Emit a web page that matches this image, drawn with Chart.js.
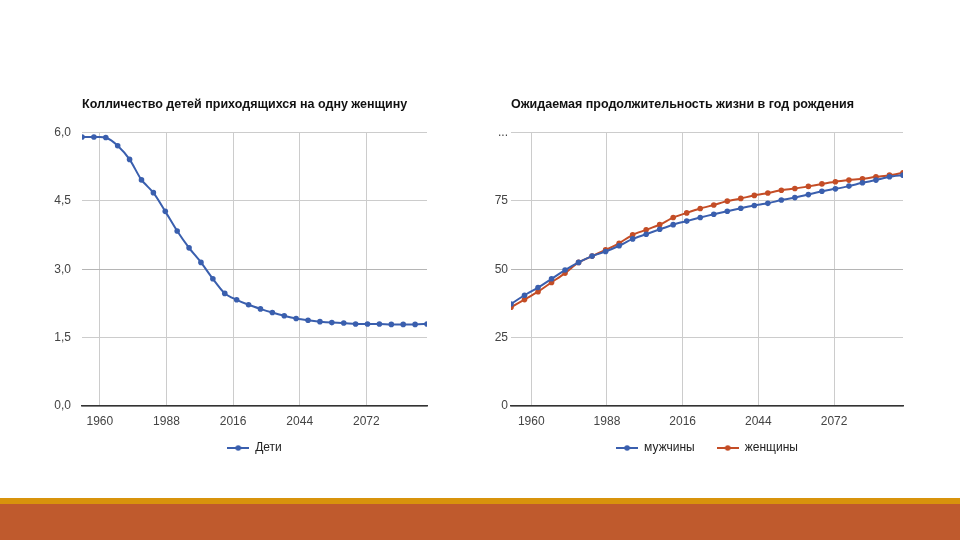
<!DOCTYPE html>
<html lang="ru">
<head>
<meta charset="utf-8">
<title>Дети и продолжительность жизни</title>
<script src="https://cdn.jsdelivr.net/npm/chart.js@4.4.1/dist/chart.umd.min.js"></script>
<style>
  html, body { margin: 0; padding: 0; background: #fff; }
  body { width: 960px; height: 540px; position: relative; overflow: hidden; }
  #childrenChart { position: absolute; left: 40px; top: 88px; }
  #lifeChart { position: absolute; left: 470px; top: 88px; }
  .band-gold { position: absolute; left: 0; top: 498px; width: 960px; height: 6px; background: #d8930c; }
  .band-rust { position: absolute; left: 0; top: 504px; width: 960px; height: 36px; background: #bf5a2d; }
</style>
</head>
<body>
<canvas id="childrenChart" width="400" height="395"></canvas>
<canvas id="lifeChart" width="440" height="395"></canvas>
<div class="band-gold"></div>
<div class="band-rust"></div>

<script>
// годы (середины пятилетних периодов)
const years = [1952.5, 1957.5, 1962.5, 1967.5, 1972.5, 1977.5, 1982.5, 1987.5, 1992.5, 1997.5,
               2002.5, 2007.5, 2012.5, 2017.5, 2022.5, 2027.5, 2032.5, 2037.5, 2042.5, 2047.5,
               2052.5, 2057.5, 2062.5, 2067.5, 2072.5, 2077.5, 2082.5, 2087.5, 2092.5, 2097.5];

// детей на одну женщину
const children = [5.90, 5.90, 5.89, 5.71, 5.41, 4.96, 4.68, 4.27, 3.84, 3.47,
                  3.15, 2.79, 2.47, 2.33, 2.22, 2.13, 2.05, 1.98, 1.92, 1.88,
                  1.85, 1.83, 1.82, 1.80, 1.80, 1.80, 1.79, 1.79, 1.79, 1.80];

// продолжительность жизни
const men = [37.3, 40.5, 43.3, 46.5, 49.7, 52.5, 54.8, 56.5, 58.6, 61.1,
             62.8, 64.6, 66.3, 67.6, 68.9, 70.1, 71.2, 72.3, 73.3, 74.1,
             75.3, 76.2, 77.3, 78.5, 79.4, 80.4, 81.6, 82.6, 83.8, 84.4];
const women = [36.1, 38.9, 41.8, 45.2, 48.6, 52.5, 54.8, 57.1, 59.5, 62.6,
               64.4, 66.3, 68.9, 70.6, 72.2, 73.5, 74.9, 75.9, 77.0, 77.9,
               78.9, 79.5, 80.3, 81.2, 82.0, 82.6, 83.1, 83.8, 84.4, 85.3];

// подписи осей
const yearTicks = [1960, 1988, 2016, 2044, 2072];
const childTicks = [0, 1.5, 3, 4.5, 6];
const lifeTicks = [0, 25, 50, 75, 100];
const lifeTickLabels = ['0', '25', '50', '75', '...'];

const BLUE = '#3a5fae';
const RED = '#c44d26';
const FONT = "'Liberation Sans', Arial, sans-serif";

/**
 * маркер легенды: линия с точкой
 */
function legendMarker(color) {
  const c = document.createElement('canvas');
  c.width = 22;
  c.height = 8;
  const ctx = c.getContext('2d');
  ctx.strokeStyle = color;
  ctx.lineWidth = 2;
  ctx.beginPath();
  ctx.moveTo(0, 4);
  ctx.lineTo(22, 4);
  ctx.stroke();
  ctx.fillStyle = color;
  ctx.beginPath();
  ctx.arc(11, 4, 2.8, 0, Math.PI * 2);
  ctx.fill();
  return c;
}

// легенду поднимаем ближе к оси (отступ между элементами остаётся широким)
const legendLift = {
  id: 'legendLift',
  afterLayout: function(chart) {
    if (chart.legend) {
      chart.legend.top -= 16;
      chart.legend.bottom -= 16;
    }
  }
};

function toPoints(values) {
  return values.map((v, i) => ({ x: years[i], y: v }));
}

function lineDataset(label, values, color) {
  return {
    label: label,
    data: toPoints(values),
    borderColor: color,
    backgroundColor: color,
    borderWidth: 2,
    pointRadius: 2.8,
    pointBorderWidth: 0,
    pointBackgroundColor: color,
    tension: 0.25,
    fill: false
  };
}

function buildOptions(title, yTicks, yLabel, yWidth, yPad, rightPad) {
  return {
    responsive: false,
    animation: false,
    layout: { padding: { left: 0, right: rightPad, top: 0, bottom: 3 } },
    plugins: {
      title: {
        display: true,
        text: title,
        align: 'start',
        fullSize: false,
        color: '#111',
        font: { family: FONT, size: 12.5, weight: 'bold' },
        padding: { top: 9.5, bottom: 20 }
      },
      legend: {
        position: 'bottom',
        fullSize: false,
        labels: {
          usePointStyle: true,
          pointStyleWidth: 22,
          padding: 22,
          color: '#222',
          font: { family: FONT, size: 12 },
          generateLabels: function(chart) {
            return chart.data.datasets.map((ds, i) => ({
              text: ds.label,
              datasetIndex: i,
              pointStyle: legendMarker(ds.borderColor),
              fillStyle: ds.borderColor,
              strokeStyle: ds.borderColor,
              lineWidth: 0,
              fontColor: '#222'
            }));
          }
        }
      },
      tooltip: { enabled: false }
    },
    scales: {
      x: {
        type: 'linear',
        min: 1952.5,
        max: 2097.5,
        afterBuildTicks: function(scale) {
          scale.ticks = yearTicks.map(v => ({ value: v }));
        },
        afterFit: function(scale) {
          scale.height = 30;
        },
        ticks: {
          color: '#444',
          font: { family: FONT, size: 12 },
          padding: 8,
          maxRotation: 0,
          callback: v => String(v)
        },
        grid: { color: '#cccccc', drawTicks: false },
        border: { display: true, color: '#333', width: 1.5 }
      },
      y: {
        min: yTicks[0],
        max: yTicks[yTicks.length - 1],
        afterBuildTicks: function(scale) {
          scale.ticks = yTicks.map(v => ({ value: v }));
        },
        afterFit: function(scale) {
          scale.width = yWidth;
        },
        ticks: {
          color: '#444',
          font: { family: FONT, size: 12 },
          padding: yPad,
          callback: yLabel
        },
        grid: {
          drawTicks: false,
          color: ctx => (ctx.index === 2 ? '#b5b5b5' : '#cccccc')
        },
        border: { display: false }
      }
    }
  };
}

// график детей
new Chart(document.getElementById('childrenChart'), {
  type: 'line',
  data: {
    datasets: [lineDataset('Дети', children, BLUE)]
  },
  options: buildOptions(
    'Колличество детей приходящихся на одну женщину',
    childTicks,
    v => v.toFixed(1).replace('.', ','),
    42, 11, 13
  ),
  plugins: [legendLift]
});

// график продолжительности жизни
new Chart(document.getElementById('lifeChart'), {
  type: 'line',
  data: {
    datasets: [
      lineDataset('мужчины', men, BLUE),
      lineDataset('женщины', women, RED)
    ]
  },
  options: buildOptions(
    'Ожидаемая продолжительность жизни в год рождения',
    lifeTicks,
    v => lifeTickLabels[lifeTicks.indexOf(v)],
    41, 3, 7
  ),
  plugins: [legendLift]
});
</script>
</body>
</html>
